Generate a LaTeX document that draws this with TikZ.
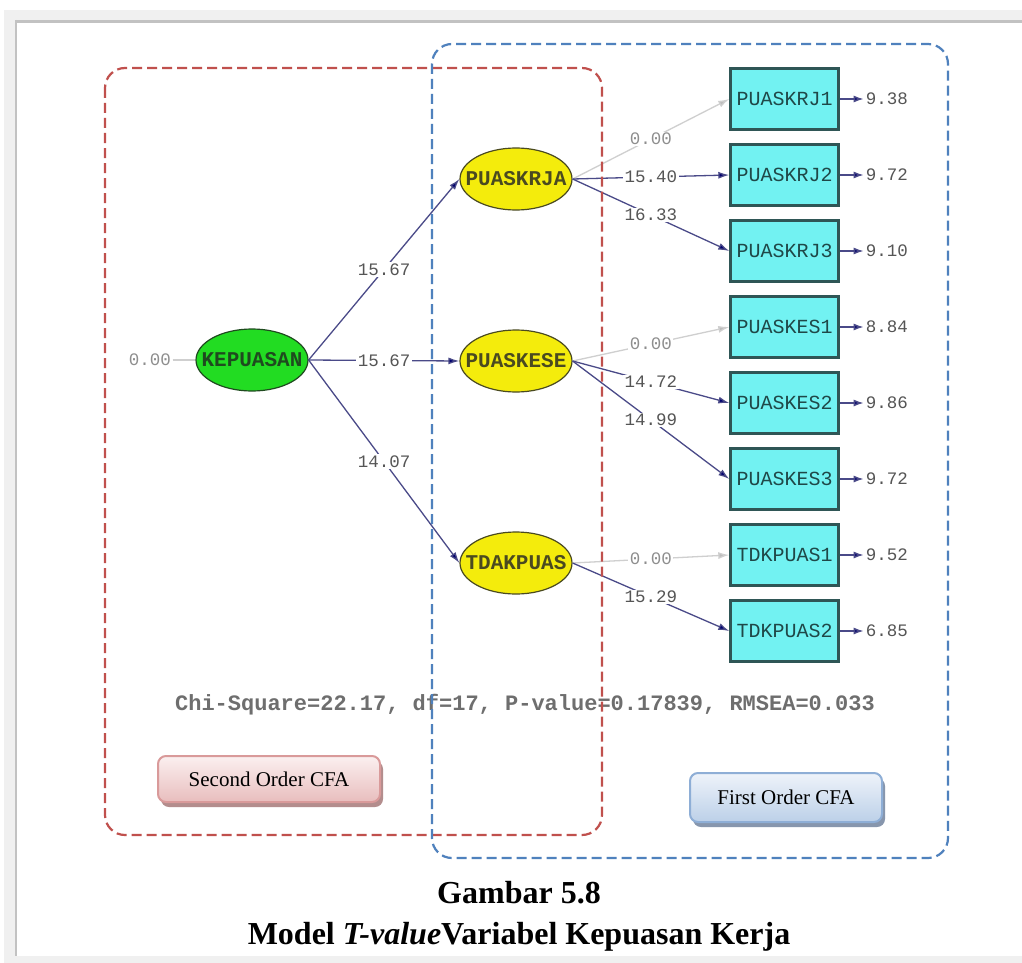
\documentclass[tikz,border=0pt]{standalone}
\usepackage{fontspec}
\setmainfont{Liberation Serif}
\newfontfamily\lisrel{Liberation Mono}
\usetikzlibrary{arrows.meta,shadows,shapes.geometric}

\definecolor{pagegray}{HTML}{F0F0F0}
\definecolor{rulegray}{HTML}{C2C2C2}
\definecolor{redframe}{HTML}{C0504D}
\definecolor{blueframe}{HTML}{4F81BD}
\definecolor{pathcol}{HTML}{4A4A88}
\definecolor{headcol}{HTML}{00006E}
\definecolor{fixcol}{HTML}{CFCFCF}
\definecolor{fixhead}{HTML}{BDBDBD}
\definecolor{boxfill}{HTML}{72F2F2}
\definecolor{boxline}{HTML}{2F5656}
\definecolor{boxtext}{HTML}{1F4848}
\definecolor{latyellow}{HTML}{F4EC0C}
\definecolor{latgreen}{HTML}{22DC22}
\definecolor{latline}{HTML}{4A4A20}
\definecolor{kepline}{HTML}{1F4A1F}
\definecolor{numcol}{HTML}{555555}
\definecolor{fixnum}{HTML}{8E8E8E}
\definecolor{pinktop}{HTML}{FBF0F0}
\definecolor{pinkbot}{HTML}{E8BDBD}
\definecolor{pinkline}{HTML}{D99A9A}
\definecolor{pinkshadow}{HTML}{B38D8D}
\definecolor{bluetop}{HTML}{EEF3FA}
\definecolor{bluebot}{HTML}{BCD0E8}
\definecolor{blueline}{HTML}{8EAED6}
\definecolor{blueshadow}{HTML}{8796AD}

\tikzset{
  latent/.style={ellipse, draw=latline, line width=1.2pt, minimum width=112pt,
    minimum height=62pt, inner sep=0pt, font=\lisrel\bfseries\fontsize{21}{21}\selectfont,
    text=latline},
  indicator/.style={rectangle, draw=boxline, line width=2.4pt, fill=boxfill,
    minimum width=108pt, minimum height=61pt, inner sep=0pt,
    font=\lisrel\fontsize{20}{20}\selectfont, text=boxtext},
  freepath/.style={draw=pathcol, line width=1.3pt,
    -{Latex[length=11pt,width=7pt,fill=headcol]}},
  fixpath/.style={draw=fixcol, line width=1.3pt,
    -{Latex[length=11pt,width=7pt,fill=fixhead]}},
  errpath/.style={draw=pathcol, line width=1.5pt,
    -{Latex[length=10pt,width=7pt,fill=headcol]}},
  tval/.style={fill=white, inner sep=1.5pt, text=numcol,
    font=\lisrel\fontsize{17.5}{17.5}\selectfont},
  fixval/.style={tval, text=fixnum},
  errval/.style={anchor=west, inner sep=1pt, text=numcol,
    font=\lisrel\fontsize{17.5}{17.5}\selectfont},
  groupframe/.style={line width=2.2pt, dash pattern=on 10pt off 5pt,
    rounded corners=20pt},
  tagbox/.style={rectangle, rounded corners=8pt, line width=2pt,
    font=\fontsize{21}{21}\selectfont, text=black, inner sep=0pt},
  captionline/.style={font=\bfseries\fontsize{32}{32}\selectfont, text=black}
}

\begin{document}
\begin{tikzpicture}[x=1pt,y=-1pt]
\useasboundingbox (0,0) rectangle (1022,963);

% page background and window frame
\fill[white] (0,0) rectangle (1022,963);
\fill[pagegray] (4,10) rectangle (1022,963);
\fill[white] (17,23) rectangle (1022,956);
\draw[rulegray, line width=3pt] (15,21.5) -- (1022,21.5);
\draw[rulegray, line width=2.5pt] (16,20) -- (16,956);

% latent variables (labels kept to the ellipse's fixed size)
\node[latent, fill=latgreen, draw=kepline, text=kepline] (kep) at (252,360) {\makebox[0pt]{KEPUASAN}};
\node[latent, fill=latyellow] (krja) at (516,179) {\makebox[0pt]{PUASKRJA}};
\node[latent, fill=latyellow] (kese) at (516,361) {\makebox[0pt]{PUASKESE}};
\node[latent, fill=latyellow] (tdak) at (516,563) {\makebox[0pt]{TDAKPUAS}};

% observed indicators
\node[indicator] (r1) at (784.5,99)  {PUASKRJ1};
\node[indicator] (r2) at (784.5,175) {PUASKRJ2};
\node[indicator] (r3) at (784.5,251) {PUASKRJ3};
\node[indicator] (s1) at (784.5,327) {PUASKES1};
\node[indicator] (s2) at (784.5,403) {PUASKES2};
\node[indicator] (s3) at (784.5,479) {PUASKES3};
\node[indicator] (t1) at (784.5,555) {TDKPUAS1};
\node[indicator] (t2) at (784.5,631) {TDKPUAS2};

% variance of the second-order factor
\node[fixval] (kepvar) at (150,360) {0.00};
\draw[fixcol, line width=1.3pt] (kepvar.east) -- (kep.west);

% second-order loadings
\draw[freepath] (kep.east) -- node[tval] {15.67} (krja.west);
\draw[freepath] (kep.east) -- node[tval] {15.67} (kese.west);
\draw[freepath] (kep.east) -- node[tval] {14.07} (tdak.west);

% first-order loadings
\draw[fixpath]  (krja.east) -- node[fixval] {0.00} (r1.west);
\draw[freepath] (krja.east) -- node[tval] {15.40} (r2.west);
\draw[freepath] (krja.east) -- node[tval] {16.33} (r3.west);
\draw[fixpath]  (kese.east) -- node[fixval] {0.00} (s1.west);
\draw[freepath] (kese.east) -- node[tval] {14.72} (s2.west);
\draw[freepath] (kese.east) -- node[tval] {14.99} (s3.west);
\draw[fixpath]  (tdak.east) -- node[fixval] {0.00} (t1.west);
\draw[freepath] (tdak.east) -- node[tval] {15.29} (t2.west);

% measurement errors
\foreach \b/\v in {r1/9.38, r2/9.72, r3/9.10, s1/8.84, s2/9.86, s3/9.72, t1/9.52, t2/6.85}{
  \coordinate (e\b) at ([xshift=24pt]\b.east);
  \draw[errpath] (\b.east) -- (e\b);
  \node[errval] at ([xshift=1pt]e\b) {\v};
}

% fit statistics
\node[text=numcol!85, font=\lisrel\bfseries\fontsize{22}{22}\selectfont] (fit) at (525,705)
  {Chi-Square=22.17, df=17, P-value=0.17839, RMSEA=0.033};

% group frames
\draw[redframe, groupframe] (105,68) rectangle (602,835);
\draw[blueframe, groupframe] (432,44) rectangle (948,858);

% group tags
\node[tagbox, draw=pinkline, top color=pinktop, bottom color=pinkbot,
  minimum width=222pt, minimum height=46pt,
  drop shadow={shadow xshift=3pt, shadow yshift=-5pt, fill=pinkshadow, opacity=1}]
  (second) at (269,779) {Second Order CFA};
\node[tagbox, draw=blueline, top color=bluetop, bottom color=bluebot,
  minimum width=192pt, minimum height=49pt,
  drop shadow={shadow xshift=3pt, shadow yshift=-5pt, fill=blueshadow, opacity=1}]
  (first) at (786,797.5) {First Order CFA};

% caption
\node[captionline] (cap1) at (519,893) {Gambar 5.8};
\node[captionline] (cap2) at (519,937) {Model \textit{T-value}Variabel Kepuasan Kerja};
\end{tikzpicture}
\end{document}
